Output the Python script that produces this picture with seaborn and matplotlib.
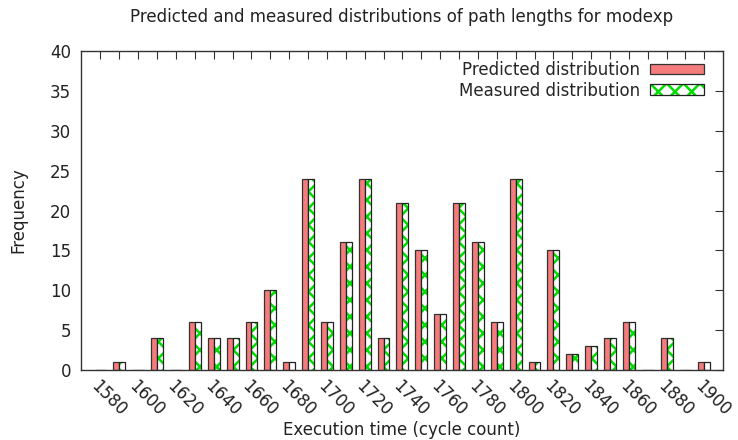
import matplotlib
matplotlib.use('Agg')
import matplotlib.pyplot as plt
import matplotlib.colors as mcolors
import matplotlib.transforms as mtransforms
import numpy as np
import pandas as pd
import seaborn as sns

# datos
cycles = list(range(1580, 1901, 10))
predicted = [0, 1, 0, 4, 0, 6, 4, 4, 6, 10, 1, 24, 6, 16, 24, 4, 21,
             15, 7, 21, 16, 6, 24, 1, 15, 2, 3, 4, 6, 0, 4, 0, 1]
measured = [0, 1, 0, 4, 0, 6, 4, 4, 6, 10, 1, 24, 6, 16, 24, 4, 21,
            15, 7, 21, 16, 6, 24, 1, 15, 2, 3, 4, 6, 0, 4, 0, 1]
series = ['Predicted distribution', 'Measured distribution']

red = '#f47c7c'
green = '#00dd00'

sns.set_style('white')
plt.rcParams['font.family'] = ['DejaVu Sans']
plt.rcParams['hatch.linewidth'] = 1.8

df = pd.DataFrame({
    'cycle': [str(c) for c in cycles] * 2,
    'freq': predicted + measured,
    'series': [series[0]] * len(cycles) + [series[1]] * len(cycles),
})

fig, ax = plt.subplots(figsize=(7.38, 4.4), dpi=100)
fig.subplots_adjust(left=0.1093, right=0.980, top=0.884, bottom=0.159)

sns.barplot(data=df, x='cycle', y='freq', hue='series', hue_order=series,
            palette=[red, 'white'], width=0.63, gap=0, saturation=1,
            edgecolor='#333333', linewidth=0.9, legend=False, ax=ax)

# patron verde para la serie medida
for p in ax.containers[1]:
    p.set_facecolor('white')
    p.set_hatch('xx')
    p.set_edgecolor('#222222')
    p._hatch_color = mcolors.to_rgba(green)

ax.legend(handles=[ax.containers[0][0], ax.containers[1][1]], labels=series,
          loc='upper right', frameon=False, markerfirst=False, fontsize=12,
          handlelength=3.2, handleheight=0.6, borderaxespad=0.2,
          labelspacing=0.15, handletextpad=0.6, bbox_to_anchor=(0.985, 1.0))

ax.set_xlim(-1.05, 33)
ax.set_ylim(0, 40)
ax.set_yticks(np.arange(0, 41, 5))
ax.set_xticks(range(len(cycles)))
ax.set_xticklabels([str(c) if i % 2 == 0 else '' for i, c in enumerate(cycles)],
                   rotation=-45, ha='left', va='top', rotation_mode='anchor')

# mover un poco las etiquetas a la derecha
shift = mtransforms.ScaledTranslation(6 / 100, 0, fig.dpi_scale_trans)
for lab in ax.get_xticklabels():
    lab.set_transform(lab.get_transform() + shift)

ax.tick_params(axis='both', direction='in', length=6, width=0.8, color='#333333',
               top=True, right=True, labelsize=12, labelcolor='#222222')
ax.tick_params(axis='x', pad=5)
ax.tick_params(axis='y', pad=7)
for s in ax.spines.values():
    s.set_color('#333333')
    s.set_linewidth(1.0)

ax.set_title('Predicted and measured distributions of path lengths for modexp',
             fontsize=12, pad=21, color='#222222')
ax.set_xlabel('Execution time (cycle count)', fontsize=12, color='#222222', labelpad=1)
ax.set_ylabel('Frequency', fontsize=12, color='#222222', labelpad=16)

plt.savefig('out.png', dpi=100)
